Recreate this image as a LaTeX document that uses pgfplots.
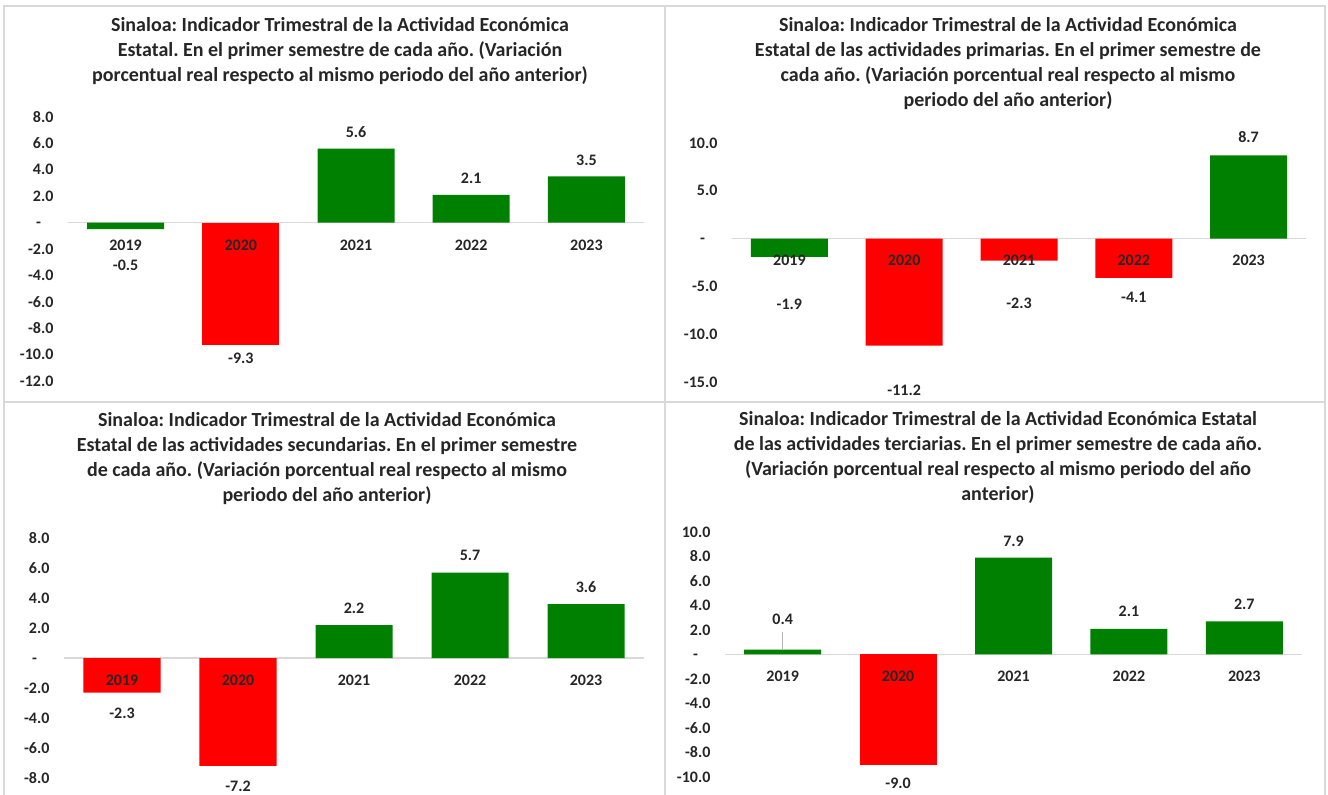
\documentclass[border=0pt]{standalone}
\usepackage{fontspec}
\setmainfont{Carlito}
\usepackage{pgfplots}
\pgfplotsset{compat=1.18}
\frenchspacing
\definecolor{gr}{HTML}{008000}
\definecolor{rd}{HTML}{FF0000}
\definecolor{zl}{HTML}{D9D9D9}
\definecolor{tt}{HTML}{262626}
\newcommand{\ttlf}{\fontsize{20}{25}\selectfont\bfseries}
\newcommand{\tickf}{\fontsize{16}{18}\selectfont\bfseries}
\newcommand{\lblf}{\fontsize{16}{18}\selectfont\bfseries}
\pgfplotsset{
  panel/.style={scale only axis, xmin=-0.5, xmax=4.5, xtick=\empty,
    axis line style={draw=none}, major tick length=0pt, clip=false,
    yticklabel style={font=\tickf, text=tt, anchor=east, xshift=-11pt},
    extra y ticks={0}, extra y tick labels={},
    extra y tick style={grid=major, major grid style={draw=zl, line width=1.2pt}}},
  barg/.style={ybar, bar width=77pt, bar shift=0pt, fill=gr, draw=none},
  barr/.style={ybar, bar width=77pt, bar shift=0pt, fill=rd, draw=none},
  lbl/.style={draw=none, mark=none, nodes near coords, point meta=explicit symbolic,
    nodes near coords style={anchor=center, font=\lblf, text=tt}}
}
\begin{document}
\begin{tikzpicture}
\useasboundingbox (0pt,0pt) rectangle (1328pt,795pt);
\fill[white] (0pt,0pt) rectangle (1328pt,795pt);
\draw[zl, line width=1.2pt] (4pt,0pt) -- (4pt,789pt) -- (1325pt,789pt) -- (1325pt,0pt);
\draw[zl, line width=1.2pt] (665pt,0pt) -- (665pt,789pt);
\draw[zl, line width=1.2pt] (4pt,393pt) -- (1325pt,393pt);
% titles
\node[anchor=north, align=center, font=\ttlf, text=tt, inner sep=0pt] at (340pt,778pt) {Sinaloa: Indicador Trimestral de la Actividad Económica\\Estatal. En el primer semestre de cada año. (Variación\\porcentual real respecto al mismo periodo del año anterior)};
\node[anchor=north, align=center, font=\ttlf, text=tt, inner sep=0pt] at (1008pt,778pt) {Sinaloa: Indicador Trimestral de la Actividad Económica\\Estatal de las actividades primarias. En el primer semestre de\\cada año. (Variación porcentual real respecto al mismo\\periodo del año anterior)};
\node[anchor=north, align=center, font=\ttlf, text=tt, inner sep=0pt] at (327pt,383pt) {Sinaloa: Indicador Trimestral de la Actividad Económica\\Estatal de las actividades secundarias. En el primer semestre\\de cada año. (Variación porcentual real respecto al mismo\\periodo del año anterior)};
\node[anchor=north, align=center, font=\ttlf, text=tt, inner sep=0pt] at (998pt,384pt) {Sinaloa: Indicador Trimestral de la Actividad Económica Estatal\\de las actividades terciarias. En el primer semestre de cada año.\\(Variación porcentual real respecto al mismo periodo del año\\anterior)};

% Panel 1
\begin{axis}[panel, at={(68pt,414pt)}, anchor=south west, width=576pt, height=264pt,
  ymin=-12, ymax=8, ytick={-12,-10,...,8},
  yticklabels={-12.0,-10.0,-8.0,-6.0,-4.0,-2.0,{-\phantom{.0}},2.0,4.0,6.0,8.0}]
\addplot[barg] coordinates {(0,-0.5) (2,5.6) (3,2.1) (4,3.5)};
\addplot[barr] coordinates {(1,-9.3)};
\addplot[lbl] coordinates {(0,-1.7)[2019] (1,-1.7)[2020] (2,-1.7)[2021] (3,-1.7)[2022] (4,-1.7)[2023]};
\addplot[lbl] coordinates {(0,-3.2)[-0.5] (1,-10.26)[-9.3] (2,6.86)[5.6] (3,3.37)[2.1] (4,4.74)[3.5]};
\end{axis}

% Panel 2
\begin{axis}[panel, at={(732pt,413pt)}, anchor=south west, width=574pt, height=239pt,
  ymin=-15, ymax=10, ytick={-15,-10,...,10},
  yticklabels={-15.0,-10.0,-5.0,{-\phantom{.0}},5.0,10.0}]
\addplot[barg] coordinates {(0,-1.9) (4,8.7)};
\addplot[barr] coordinates {(1,-11.2) (2,-2.3) (3,-4.1)};
\addplot[lbl] coordinates {(0,-2.24)[2019] (1,-2.24)[2020] (2,-2.24)[2021] (3,-2.24)[2022] (4,-2.24)[2023]};
\addplot[lbl] coordinates {(0,-6.84)[-1.9] (1,-15.84)[-11.2] (2,-6.74)[-2.3] (3,-6.1)[-4.1] (4,10.63)[8.7]};
\end{axis}

% Panel 3
\begin{axis}[panel, at={(64pt,17pt)}, anchor=south west, width=580pt, height=240pt,
  ymin=-8, ymax=8, ytick={-8,-6,...,8},
  yticklabels={-8.0,-6.0,-4.0,-2.0,{-\phantom{.0}},2.0,4.0,6.0,8.0}]
\addplot[barg] coordinates {(2,2.2) (3,5.7) (4,3.6)};
\addplot[barr] coordinates {(0,-2.3) (1,-7.2)};
\addplot[lbl] coordinates {(0,-1.47)[2019] (1,-1.47)[2020] (2,-1.47)[2021] (3,-1.47)[2022] (4,-1.47)[2023]};
\addplot[lbl] coordinates {(0,-3.67)[-2.3] (1,-8.53)[-7.2] (2,3.33)[2.2] (3,6.87)[5.7] (4,4.73)[3.6]};
\end{axis}

% Panel 4
\begin{axis}[panel, at={(725pt,18pt)}, anchor=south west, width=577pt, height=245pt,
  ymin=-10, ymax=10, ytick={-10,-8,...,10},
  yticklabels={-10.0,-8.0,-6.0,-4.0,-2.0,{-\phantom{.0}},2.0,4.0,6.0,8.0,10.0}]
\addplot[barg] coordinates {(0,0.4) (2,7.9) (3,2.1) (4,2.7)};
\addplot[barr] coordinates {(1,-9.0)};
\addplot[draw=gray!60, line width=0.8pt, mark=none] coordinates {(0,1.85) (0,0.45)};
\addplot[lbl] coordinates {(0,-1.76)[2019] (1,-1.76)[2020] (2,-1.76)[2021] (3,-1.76)[2022] (4,-1.76)[2023]};
\addplot[lbl] coordinates {(0,2.9)[0.4] (1,-10.49)[-9.0] (2,9.27)[7.9] (3,3.55)[2.1] (4,4.12)[2.7]};
\end{axis}
\end{tikzpicture}
\end{document}
